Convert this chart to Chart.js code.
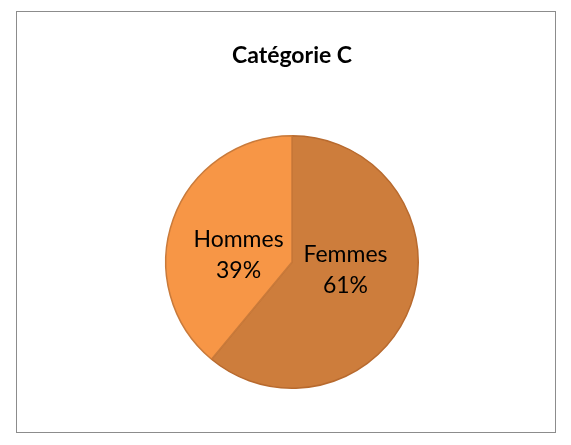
<!DOCTYPE html>
<html>
<head>
<meta charset="utf-8">
<script src="https://cdn.jsdelivr.net/npm/chart.js@4"></script>
<style>
  body { margin: 0; background: #fff; }
  #box {
    position: absolute; left: 16px; top: 11px;
    width: 538px; height: 420px;
    border: 1px solid #8c8c8c;
  }
</style>
</head>
<body>
<div id="box"><canvas id="chart" width="538" height="420"></canvas></div>
<script>
const title = "Catégorie C";
const labels = ["Femmes", "Hommes"];
const values = [61, 39];
const colors = ["#CD7D3C", "#F79646"];
const borders = ["#B86A2E", "#C97A3A"];

// draws title and in-slice labels (name + percent)
const labelPlugin = {
  id: "sliceLabels",
  afterDraw(chart) {
    const ctx = chart.ctx;
    ctx.save();
    ctx.fillStyle = "#000";
    ctx.textAlign = "center";
    ctx.textBaseline = "middle";
    ctx.font = "bold 23px Lato";
    ctx.fillText(title, 275, 44);

    const total = values.reduce((a, b) => a + b, 0);
    ctx.font = "23px Lato";
    chart.getDatasetMeta(0).data.forEach((arc, i) => {
      const p = arc.getProps(["x", "y", "startAngle", "endAngle", "outerRadius"], true);
      const mid = (p.startAngle + p.endAngle) / 2;
      const r = p.outerRadius * 0.45;
      const x = p.x + Math.cos(mid) * r;
      const y = p.y + Math.sin(mid) * r * 0.4;
      const pct = Math.round(values[i] / total * 100) + "%";
      ctx.fillText(labels[i], x, y - 15);
      ctx.fillText(pct, x, y + 16);
    });
    ctx.restore();
  }
};

new Chart(document.getElementById("chart"), {
  type: "pie",
  data: {
    labels: labels,
    datasets: [{
      data: values,
      backgroundColor: colors,
      borderColor: borders,
      borderWidth: 1.5
    }]
  },
  options: {
    responsive: false,
    animation: false,
    layout: { padding: { top: 123, bottom: 43, left: 12, right: 0 } },
    plugins: {
      legend: { display: false },
      tooltip: { enabled: false }
    }
  },
  plugins: [labelPlugin]
});
</script>
</body>
</html>
